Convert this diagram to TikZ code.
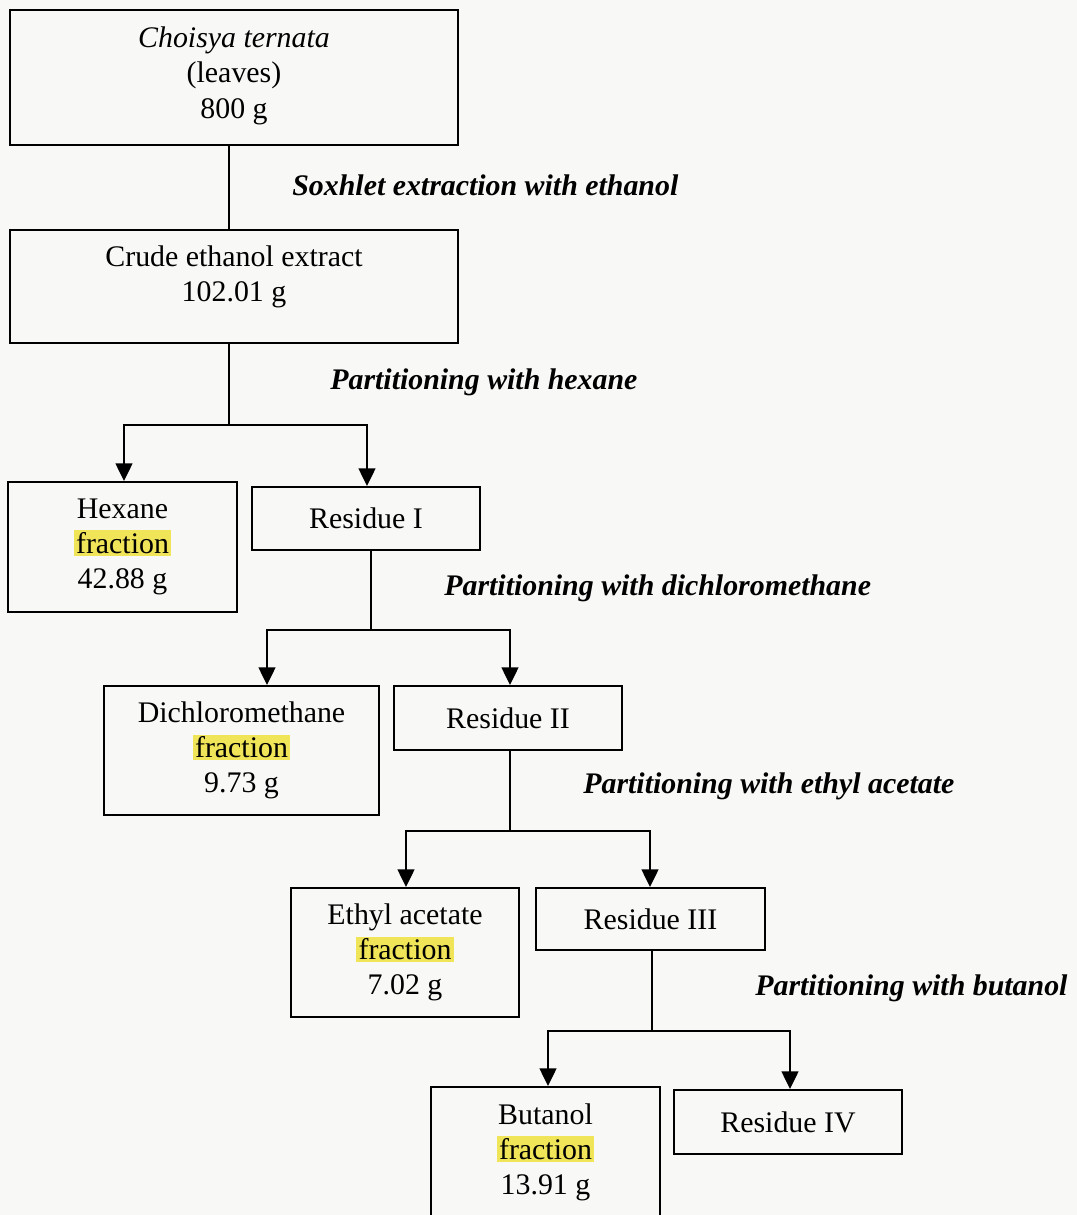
\documentclass[tikz,border=0pt]{standalone}
\usepackage{fontspec}
\setmainfont{Liberation Serif}
\usetikzlibrary{arrows.meta}

\definecolor{markgelb}{RGB}{240,228,88}
\definecolor{papier}{RGB}{248,248,247}
\newcommand{\markiert}[1]{{\setlength{\fboxsep}{1.2pt}\colorbox{markgelb}{#1}}}

\tikzset{
  kasten/.style={draw, line width=1.1pt, align=center, inner sep=0pt,
    font=\fontsize{17}{20}\selectfont},
  linie/.style={line width=1.1pt},
  pfeil/.style={line width=1.1pt, -{Triangle[width=9.5pt,length=10pt]}},
  schritt/.style={anchor=west, inner sep=0pt,
    font=\fontsize{17}{20}\selectfont\bfseries\itshape},
}

\begin{document}
\begin{tikzpicture}
    \fill[papier] (0,0) rectangle (21.54,-24.3);
    \clip (0,0) rectangle (21.54,-24.3);
    % Ausgangsmaterial und Rohextrakt:
    \node[kasten, minimum width=8.96cm, minimum height=2.7cm, text depth=0.2cm] (blaetter) at (4.68,-1.55)
        {\textit{Choisya ternata}\\(leaves)\\800 g};
    \node[kasten, minimum width=8.96cm, minimum height=2.26cm, text depth=0.5cm] (roh) at (4.68,-5.73)
        {Crude ethanol extract\\102.01 g};
    % Fraktionen (links) und Rueckstaende (rechts):
    \node[kasten, minimum width=4.58cm, minimum height=2.6cm] (hexan) at (2.45,-10.94)
        {Hexane\\\markiert{fraction}\\42.88 g};
    \node[kasten, minimum width=4.56cm, minimum height=1.26cm] (rest1) at (7.32,-10.37) {Residue I};
    \node[kasten, minimum width=5.5cm, minimum height=2.58cm] (dcm) at (4.83,-15.01)
        {Dichloromethane\\\markiert{fraction}\\9.73 g};
    \node[kasten, minimum width=4.56cm, minimum height=1.28cm] (rest2) at (10.16,-14.36) {Residue II};
    \node[kasten, minimum width=4.56cm, minimum height=2.58cm] (ea) at (8.1,-19.05)
        {Ethyl acetate\\\markiert{fraction}\\7.02 g};
    \node[kasten, minimum width=4.58cm, minimum height=1.24cm] (rest3) at (13.01,-18.38) {Residue III};
    \node[kasten, minimum width=4.58cm, minimum height=2.6cm] (butanol) at (10.91,-23.04)
        {Butanol\\\markiert{fraction}\\13.91 g};
    \node[kasten, minimum width=4.56cm, minimum height=1.28cm] (rest4) at (15.76,-22.44) {Residue IV};
    % Verzweigungspunkte:
    \coordinate (v1) at (4.58,-8.5);
    \coordinate (v2) at (7.42,-12.6);
    \coordinate (v3) at (10.2,-16.62);
    \coordinate (v4) at (13.04,-20.62);
    % Verbindungen:
    \draw[linie] ([xshift=-0.1cm]blaetter.south) -- ([xshift=-0.1cm]roh.north);
    \draw[linie] (roh.south -| v1) -- (v1);
    \draw[pfeil] (v1) -| ([xshift=0.03cm]hexan.north);
    \draw[pfeil] (v1) -| ([xshift=0.02cm]rest1.north);
    \draw[linie] (rest1.south -| v2) -- (v2);
    \draw[pfeil] (v2) -| ([xshift=0.51cm]dcm.north);
    \draw[pfeil] (v2) -| ([xshift=0.04cm]rest2.north);
    \draw[linie] (rest2.south -| v3) -- (v3);
    \draw[pfeil] (v3) -| ([xshift=0.02cm]ea.north);
    \draw[pfeil] (v3) -| ([xshift=-0.01cm]rest3.north);
    \draw[linie] (rest3.south -| v4) -- (v4);
    \draw[pfeil] (v4) -| ([xshift=0.05cm]butanol.north);
    \draw[pfeil] (v4) -| ([xshift=0.04cm]rest4.north);
    % Arbeitsschritte:
    \node[schritt] (s1) at (5.84,-3.7) {Soxhlet extraction with ethanol};
    \node[schritt] (s2) at (6.6,-7.64) {Partitioning with hexane};
    \node[schritt] (s3) at (8.88,-11.76) {Partitioning with dichloromethane};
    \node[schritt] (s4) at (11.66,-15.72) {Partitioning with ethyl acetate};
    \node[schritt] (s5) at (15.1,-19.76) {Partitioning with butanol};
\end{tikzpicture}
\end{document}
